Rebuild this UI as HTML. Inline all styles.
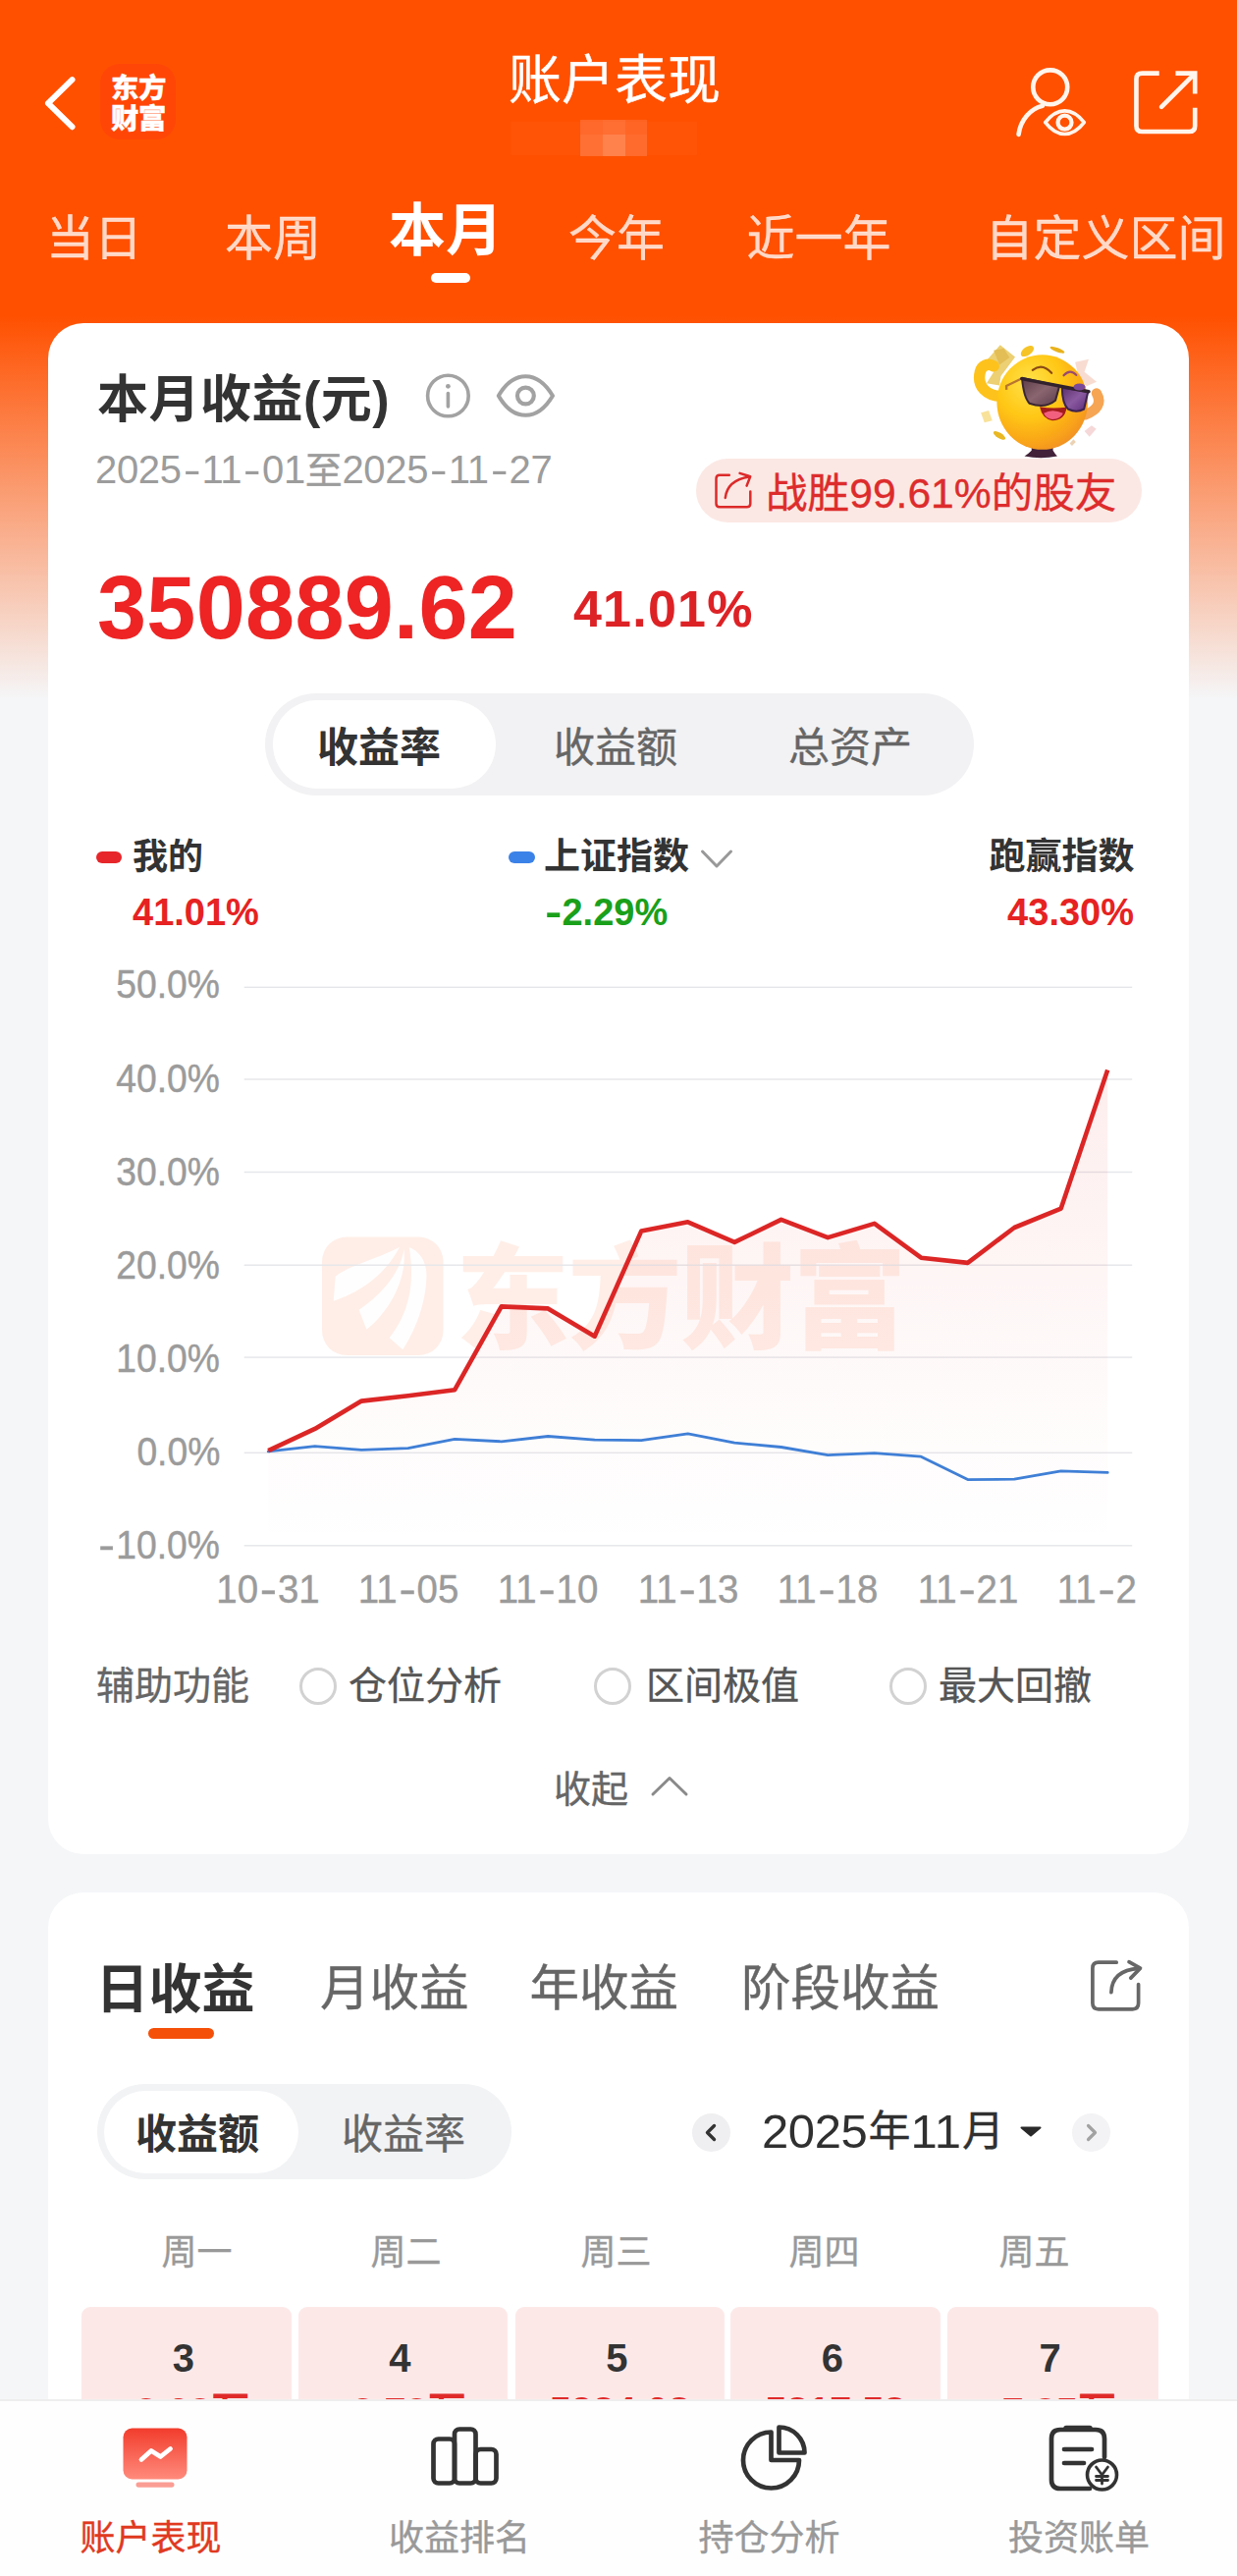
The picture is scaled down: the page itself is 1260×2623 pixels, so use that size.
<!DOCTYPE html>
<html lang="zh-CN">
<head>
<meta charset="utf-8">
<title>账户表现</title>
<style>
*{box-sizing:border-box;margin:0;padding:0}
html,body{width:1260px;height:2623px;overflow:hidden;background:#f5f6f8}
body{position:relative;font-family:"Liberation Sans","Noto Sans CJK SC",sans-serif;color:#333}
.a{position:absolute;white-space:nowrap;line-height:1}
.cj{font-family:"Liberation Sans","Noto Sans CJK SC",sans-serif;-webkit-text-stroke-width:.35px}
.a.cj{margin-top:.0895em}
.cj.b,.b .cj,.cell .cj{-webkit-text-stroke-width:0}
.b{font-weight:700}
.m{font-weight:500}
#bg{left:0;top:0;width:1260px;height:720px;background:linear-gradient(#ff5000 0,#ff5000 322px,#f5f6f8 712px)}
.card{background:#fff;border-radius:36px}
.tab{color:rgba(255,255,255,.78);font-size:49px;transform:translateX(-50%);top:215px;-webkit-text-stroke:.3px rgba(255,255,255,.78)}
.gl{height:2px;left:249px;width:904px;background:#ececee}
.yl{font-size:40.5px;color:#9b9b9b;right:1036px;transform:translateY(-50%) scaleX(.92);transform-origin:100% 50%;-webkit-text-stroke-width:.45px}
.xl{font-size:40px;color:#9b9b9b;-webkit-text-stroke-width:.4px;transform:translateX(-50%) scaleX(.96)}
.hy{display:inline-block;width:.52em;text-align:center;transform:scaleX(1.35)}
.red{color:#e62222}
.grn{color:#1aa01a}
.g6{color:#666}
.g9{color:#999}
.radio{width:38px;height:38px;border:3.4px solid #d2d2d2;border-radius:50%;top:1697.500px;margin-left:-1px}
.cell{top:2348.500px;width:214.500px;height:200px;background:#fde8e8;border-radius:9px}
.cell b{position:absolute;left:-6px;right:0;top:32.500px;text-align:center;font-size:40px;line-height:1;color:#333}
.cell i{position:absolute;left:13px;right:0;top:87.500px;text-align:center;font-size:39.500px;line-height:1;color:#e02a2a;font-style:normal;font-weight:700}
.wk{font-size:36px;color:#999;top:2273px;transform:translateX(-50%)}
.nl{font-size:36px;color:#999;top:2563.500px;transform:translateX(-50%)}
</style>
</head>
<body>
<div id="bg" class="a"></div>

<!-- ===== header ===== -->
<div id="hdr">
<svg class="a" style="left:40px;top:72px" width="44" height="66" viewBox="0 0 44 66"><path d="M33.500 9.200 L9 33.200 L33.500 57.200" fill="none" stroke="#fff" stroke-width="6" stroke-linecap="round" stroke-linejoin="round"/></svg>
<div class="a" id="logo" style="left:101.800px;top:65.200px;width:77.500px;height:76.800px;border-radius:20px;background:#ff4607"></div>
<div class="a cj" style="left:113px;top:72px;font-size:28.400px;color:#fff;font-weight:900;line-height:31.800px;letter-spacing:-.4px">东方<br>财富</div>
<div class="a cj" id="title" style="left:626px;top:50px;font-size:54px;color:#fff;transform:translateX(-50%)">账户表现</div>
<div class="a" style="left:591px;top:122px;width:68px;height:37px;opacity:.9">
<div class="a" style="left:0;top:0;width:23px;height:15px;background:#ff6a2c"></div><div class="a" style="left:23px;top:0;width:23px;height:15px;background:#ff7034"></div><div class="a" style="left:46px;top:0;width:22px;height:15px;background:#ff6525"></div>
<div class="a" style="left:0;top:15px;width:23px;height:22px;background:#ff7236"></div><div class="a" style="left:23px;top:15px;width:23px;height:22px;background:#ff8652"></div><div class="a" style="left:46px;top:15px;width:22px;height:22px;background:#ff6c2e"></div>
</div>
<div class="a" style="left:520px;top:124px;width:190px;height:34px;background:rgba(255,255,255,.02)"></div>
</div>

<svg class="a" id="hi" style="left:1010px;top:50px" width="240" height="110" viewBox="0 0 1237 567"><g fill="none" stroke="#fff5ec" stroke-width="24" stroke-linecap="round" stroke-linejoin="round">
<circle cx="308" cy="200" r="90"/>
<path d="M142 448C152 372 205 312 268 298"/>
<path d="M282 385C318 338 350 324 384 324C418 324 450 338 486 385C450 432 418 446 384 446C350 446 318 432 282 385Z" stroke-width="19" fill="#ff5000"/>
<circle cx="384" cy="385" r="36" stroke-width="22"/>
<path d="M880 127H790Q760 127 760 157V403Q760 433 790 433H1038Q1068 433 1068 403V308" stroke-linecap="butt"/>
<path d="M892 303L1062 133"/>
<path d="M966 127H1068V234" stroke-linejoin="miter" stroke-linecap="butt"/>
</g></svg>

<!-- ===== tabs ===== -->
<div id="tabs">
<div class="a tab cj" style="left:96px">当日</div>
<div class="a tab cj" style="left:278px">本周</div>
<div class="a cj b" style="left:454px;top:201px;font-size:58px;color:#fff;transform:translateX(-50%)">本月</div>
<div class="a tab cj" style="left:628px">今年</div>
<div class="a tab cj" style="left:834px">近一年</div>
<div class="a tab cj" style="left:1126px">自定义区间</div>
<div class="a" style="left:439px;top:278px;width:40px;height:10px;border-radius:5px;background:#fff"></div>
</div>

<!-- ===== card 1 ===== -->
<div class="a card" id="card1" style="left:49px;top:328.500px;width:1161.500px;height:1559.500px"></div>


<div id="c1top">
<div class="a cj b" id="t1" style="left:99px;top:376px;font-size:52px;color:#333;letter-spacing:.5px">本月收益(元)</div>
<svg class="a" style="left:432px;top:378px" width="50" height="50" viewBox="0 0 50 50"><circle cx="24.400" cy="25" r="20.800" fill="none" stroke="#a2a2a2" stroke-width="3.600"/><circle cx="24.400" cy="15.300" r="2.400" fill="#a2a2a2"/><path d="M24.400 22.500V36" stroke="#a2a2a2" stroke-width="3.600" stroke-linecap="round"/></svg>
<svg class="a" style="left:503px;top:380px" width="66" height="48" viewBox="0 0 66 48"><path d="M4.800 23C14 7 24 3.200 32.400 3.200C40.800 3.200 50.500 7 60 23C50.500 39 40.800 42.800 32.400 42.800C24 42.800 14 39 4.800 23Z" fill="none" stroke="#a2a2a2" stroke-width="4" stroke-linejoin="round"/><circle cx="32.400" cy="23" r="8.400" fill="none" stroke="#a2a2a2" stroke-width="4.200"/></svg>
<div class="a" id="dt" style="left:97px;top:458px;font-size:40px;color:#9c9c9c;letter-spacing:-.35px">2025<span class="hy">-</span>11<span class="hy">-</span>01<span class="cj" style="font-size:38px">至</span>2025<span class="hy">-</span>11<span class="hy">-</span>27</div>
<svg class="a" id="emoji" style="left:970px;top:335px" width="180" height="132" viewBox="0 0 1237 907">
<defs>
<radialGradient id="eg" cx="0.36" cy="0.3" r="0.8"><stop offset="0" stop-color="#ffe24a"/><stop offset=".45" stop-color="#ffc715"/><stop offset=".8" stop-color="#f9a21a"/><stop offset="1" stop-color="#ee8a28"/></radialGradient>
<linearGradient id="l1" x1="0" y1="0" x2="1" y2="1"><stop offset="0" stop-color="#5b3b46"/><stop offset=".5" stop-color="#8a6670"/><stop offset="1" stop-color="#5a3a4a"/></linearGradient>
<linearGradient id="l2" x1="0" y1="0" x2="1" y2="1"><stop offset="0" stop-color="#5a2f6a"/><stop offset=".5" stop-color="#8a5aa0"/><stop offset="1" stop-color="#5a2a78"/></linearGradient>
<filter id="ebl" x="-5%" y="-5%" width="110%" height="110%"><feGaussianBlur stdDeviation="2.5"/></filter>
</defs>
<g filter="url(#ebl)">
<path d="M245 215 L335 112 L440 195 L340 330 L330 395 L240 380 L290 300Z" fill="#ecd073"/>
<path d="M290 150 L360 135 L400 200 L330 250Z" fill="#e3bd55"/>
<path d="M345 470 C240 470 170 400 195 300 C205 255 250 235 290 260" fill="none" stroke="#fdc21c" stroke-width="78" stroke-linecap="round"/>
<path d="M860 232 L955 212 L925 300 L1010 370 L940 400 L880 320Z" fill="#f8dcd2"/>
<path d="M930 600 C1010 570 1050 520 1010 450" fill="none" stroke="#f6a552" stroke-width="72" stroke-linecap="round"/>
<path d="M555 820 H705 V850 Q720 875 735 890 Q620 915 505 890 Q530 875 555 850Z" fill="#43243a"/>
<ellipse cx="630" cy="512" rx="318" ry="332" fill="url(#eg)"/>
<ellipse cx="525" cy="155" rx="52" ry="29" transform="rotate(-35 525 155)" fill="#f6c426"/>
<ellipse cx="735" cy="146" rx="54" ry="15" transform="rotate(20 735 146)" fill="#e9b21e"/>
<ellipse cx="330" cy="745" rx="48" ry="19" transform="rotate(32 330 745)" fill="#e9b820"/>
<path d="M200 585 L255 570 L280 640 L225 655Z" fill="#f8e29a"/>
<path d="M925 715 L975 675 L1008 700 L960 755Z" fill="#f6d8d8"/>
<path d="M822 800 L848 772 L865 790 L838 818Z" fill="#ecd2b4"/>
<path d="M562 288 Q630 235 695 308" fill="none" stroke="#8a4a12" stroke-width="15" stroke-linecap="round"/>
<path d="M780 325 Q825 275 868 322" fill="none" stroke="#9a4a70" stroke-width="15" stroke-linecap="round"/>
<path d="M612 545 Q700 560 800 548 Q790 640 700 640 Q630 630 612 545Z" fill="#a41a1a"/>
<path d="M640 590 Q700 555 775 590 Q760 632 700 632 Q655 628 640 590Z" fill="#f2607f"/>
<path d="M380 425 L378 398 L488 345" fill="none" stroke="#b8742e" stroke-width="16" stroke-linejoin="round"/>
<path d="M488 342 L750 398 L722 500 Q650 560 540 520 Q500 480 488 342Z" fill="url(#l1)" stroke="#3a2832" stroke-width="14" stroke-linejoin="round"/>
<path d="M768 410 L950 440 L922 560 Q870 590 810 560 Q770 520 768 410Z" fill="url(#l2)" stroke="#3d2450" stroke-width="14" stroke-linejoin="round"/>
<path d="M486 348 L955 438" stroke="#33222e" stroke-width="24" stroke-linecap="round"/>
<ellipse cx="890" cy="405" rx="42" ry="24" fill="#7a4a9a"/>
</g>
</svg>
<div class="a" id="badge" style="left:709px;top:467px;width:454px;height:65px;border-radius:33px;background:#fbe8e4"></div>
<svg class="a" style="left:726px;top:480px" width="42" height="40" viewBox="0 0 42 40"><g fill="none" stroke="#dc2a2a" stroke-width="2.500" stroke-linecap="round" stroke-linejoin="round"><path d="M16.800 3.800H7Q3.500 3.800 3.500 7.300V32.700Q3.500 36.200 7 36.200H34.800Q38.300 36.200 38.300 32.700V20.400"/><path d="M12.800 26.900C14 16 22 8 37 5.600"/><path d="M27.600 1.900L38.200 5.200L34.600 14.600"/></g></svg>
<div class="a cj" id="bt" style="left:780px;top:477px;font-size:42.6px;color:#dd2c2c">战胜99.61%的股友</div>
<div class="a b" id="big" style="left:99px;top:574px;font-size:90px;color:#ee2424;letter-spacing:.3px">350889.62</div>
<div class="a b" id="pct" style="left:584px;top:594px;font-size:52px;color:#dd2226;letter-spacing:1.2px">41.01%</div>
</div>

<div id="seg1">
<div class="a" style="left:270px;top:706px;width:722px;height:104px;border-radius:52px;background:#f2f2f4"></div>
<div class="a" style="left:278px;top:713px;width:227px;height:90px;border-radius:45px;background:#fff"></div>
<div class="a cj b" style="left:386px;top:737px;font-size:42px;color:#333;transform:translateX(-50%)">收益率</div>
<div class="a cj g6" style="left:627px;top:737px;font-size:42px;transform:translateX(-50%)">收益额</div>
<div class="a cj g6" style="left:866px;top:737px;font-size:42px;transform:translateX(-50%)">总资产</div>
</div>

<div id="legend">
<div class="a" style="left:98px;top:867px;width:26px;height:12px;border-radius:6px;background:#e6262a"></div>
<div class="a cj b" style="left:135px;top:852px;font-size:36px;color:#333">我的</div>
<div class="a b red" style="left:135px;top:910px;font-size:38px">41.01%</div>
<div class="a" style="left:518px;top:867px;width:27px;height:12px;border-radius:6px;background:#3b82e8"></div>
<div class="a cj b" style="left:554px;top:850.500px;font-size:37px;color:#333">上证指数</div>
<svg class="a" style="left:712px;top:863px" width="36" height="24" viewBox="0 0 36 24"><path d="M3.500 4L18 19L32.500 4" fill="none" stroke="#999" stroke-width="3" stroke-linecap="round" stroke-linejoin="round"/></svg>
<div class="a b grn" style="left:555px;top:910px;font-size:38px"><span class="hy" style="width:.46em">-</span>2.29%</div>
<div class="a cj b" style="right:104.500px;top:850.500px;font-size:37px;color:#333">跑赢指数</div>
<div class="a b red" style="right:105px;top:910px;font-size:38px">43.30%</div>
</div>

<div id="chartwrap">
<svg class="a" id="chart" style="left:0;top:960px" width="1260" height="640" viewBox="0 0 1260 640">
<defs><linearGradient id="ar" x1="0" y1="45" x2="0" y2="614" gradientUnits="userSpaceOnUse"><stop offset="0" stop-color="#e8302a" stop-opacity=".1"/><stop offset=".75" stop-color="#e8302a" stop-opacity=".02"/><stop offset="1" stop-color="#e8302a" stop-opacity="0"/></linearGradient></defs>
<g id="wm">
<rect x="328" y="299.500" width="123.500" height="120.500" rx="25" fill="#ff5a1e" fill-opacity=".105"/>
<g transform="translate(310 280) scale(.32336)" fill="#fff" fill-opacity=".93"><path d="M300 92C230 130 140 150 98 185L92 262C160 240 250 190 300 92Z"/><path d="M314 98C302 180 232 250 172 290L196 352C262 300 324 200 314 98Z"/><path d="M330 93C370 108 390 150 384 200C378 290 340 370 310 415L268 378C322 310 352 220 330 93Z"/></g>
<text x="464" y="404" font-family="'Liberation Sans','Noto Sans CJK SC',sans-serif" font-weight="900" font-size="116" fill="#ff5a1e" fill-opacity=".105" letter-spacing="-1.500">东方财富</text>
</g>
<rect x="248.700" y="44.6" width="904.500" height="1.400" fill="#e5e6ea"/><rect x="248.700" y="138.3" width="904.500" height="1.400" fill="#e5e6ea"/><rect x="248.700" y="232.8" width="904.500" height="1.400" fill="#e5e6ea"/><rect x="248.700" y="327.5" width="904.500" height="1.400" fill="#e5e6ea"/><rect x="248.700" y="421.4" width="904.500" height="1.400" fill="#e5e6ea"/><rect x="248.700" y="518.6" width="904.500" height="1.400" fill="#e5e6ea"/><rect x="248.700" y="613.1" width="904.500" height="1.400" fill="#e5e6ea"/>

<path d="M273.2,517.1 L320.7,494.9 L368.2,466.6 L415.7,461.3 L463.2,455.2 L510.7,370.4 L558.2,372.4 L605.7,400.7 L653.2,293.6 L700.7,284.3 L748.2,304.9 L795.7,281.9 L843.2,300.1 L890.7,285.9 L938.2,320.7 L985.7,325.9 L1033.2,290.0 L1080.7,270.6 L1128.2,129.5 L1128.2,602.0 L273.2,602.0 Z" fill="url(#ar)"/>
<polyline points="273.2,517.9 320.7,512.6 368.2,516.3 415.7,514.7 463.2,505.4 510.7,507.8 558.2,502.5 605.7,506.2 653.2,506.6 700.7,499.8 748.2,509.1 795.7,513.5 843.2,521.6 890.7,519.6 938.2,523.2 985.7,546.6 1033.2,546.2 1080.7,537.8 1128.2,539.4" fill="none" stroke="#3f7fd6" stroke-width="2.800" stroke-linejoin="round" stroke-linecap="round"/>
<polyline points="273.2,517.1 320.7,494.9 368.2,466.6 415.7,461.3 463.2,455.2 510.7,370.4 558.2,372.4 605.7,400.7 653.2,293.6 700.7,284.3 748.2,304.9 795.7,281.9 843.2,300.1 890.7,285.9 938.2,320.7 985.7,325.9 1033.2,290.0 1080.7,270.6 1128.2,129.5" fill="none" stroke="#dc2626" stroke-width="4.600" stroke-linejoin="round" stroke-linecap="butt"/>
</svg>
<div class="a yl" style="top:1002.4px">50.0%</div><div class="a yl" style="top:1097.6px">40.0%</div><div class="a yl" style="top:1192.7px">30.0%</div><div class="a yl" style="top:1287.9px">20.0%</div><div class="a yl" style="top:1383.0px">10.0%</div><div class="a yl" style="top:1478.0px">0.0%</div><div class="a yl" style="top:1573.3px"><span class="hy">-</span>10.0%</div>
<div class="a" style="left:0;top:1590px;width:1160.500px;height:60px;overflow:hidden"><div class="a xl" style="left:273.2px;top:8px">10<span class="hy">-</span>31</div><div class="a xl" style="left:415.7px;top:8px">11<span class="hy">-</span>05</div><div class="a xl" style="left:558.2px;top:8px">11<span class="hy">-</span>10</div><div class="a xl" style="left:700.7px;top:8px">11<span class="hy">-</span>13</div><div class="a xl" style="left:843.2px;top:8px">11<span class="hy">-</span>18</div><div class="a xl" style="left:985.7px;top:8px">11<span class="hy">-</span>21</div><div class="a xl" style="left:1128.2px;top:8px">11<span class="hy">-</span>2<span style="opacity:0">6</span></div></div>
</div>

<div id="aux">
<div class="a cj" style="left:98px;top:1694px;font-size:39px;color:#666">辅助功能</div>
<div class="a radio" style="left:305.500px"></div>
<div class="a cj" style="left:355px;top:1694px;font-size:39px;color:#555">仓位分析</div>
<div class="a radio" style="left:606px"></div>
<div class="a cj" style="left:658px;top:1694px;font-size:39px;color:#555">区间极值</div>
<div class="a radio" style="left:906.500px"></div>
<div class="a cj" style="left:956px;top:1694px;font-size:39px;color:#555">最大回撤</div>
<div class="a cj" style="left:564px;top:1800px;font-size:38px;color:#666">收起</div>
<svg class="a" style="left:660px;top:1804px" width="44" height="28" viewBox="0 0 44 28"><path d="M5 23L22 6.500L39 23" fill="none" stroke="#8a8a8a" stroke-width="3" stroke-linecap="round" stroke-linejoin="round"/></svg>
</div>

<!-- ===== card 2 ===== -->
<div class="a card" id="card2" style="left:49px;top:1927px;width:1162px;height:760px"></div>

<div id="c2">
<div class="a cj b" style="left:97.500px;top:1994px;font-size:54px;color:#333">日收益</div>
<div class="a" style="left:151px;top:2065px;width:67px;height:11px;border-radius:6px;background:#f5500a"></div>
<div class="a cj" style="left:326px;top:1995px;font-size:50.500px;color:#666">月收益</div>
<div class="a cj" style="left:539.500px;top:1995px;font-size:50.500px;color:#666">年收益</div>
<div class="a cj" style="left:755px;top:1995px;font-size:50.500px;color:#666">阶段收益</div>
<svg class="a" style="left:1106px;top:1992px" width="62" height="62" viewBox="0 0 62 62"><g fill="none" stroke="#676767" stroke-width="3.700" stroke-linecap="round" stroke-linejoin="round"><path d="M31.200 6.200H12.900Q6.900 6.200 6.900 12.200V47.800Q6.900 53.800 12.900 53.800H47.600Q53.600 53.800 53.600 47.800V28.600"/><path d="M25.900 36.700C26.500 21 36 13.500 54 12.400"/><path d="M44 5.600L55.500 12.100L45.800 22.100"/></g></svg>

<div class="a" style="left:99px;top:2122px;width:422px;height:97px;border-radius:49px;background:#f2f3f5"></div>
<div class="a" style="left:105.500px;top:2128.500px;width:198px;height:84.500px;border-radius:43px;background:#fff"></div>
<div class="a cj b" style="left:201px;top:2149px;font-size:42px;color:#333;transform:translateX(-50%)">收益额</div>
<div class="a cj g6" style="left:411px;top:2149px;font-size:42px;transform:translateX(-50%)">收益率</div>

<div class="a" style="left:705px;top:2152px;width:39px;height:39px;border-radius:50%;background:#efeff1"></div>
<svg class="a" style="left:705px;top:2152px" width="39" height="39" viewBox="0 0 39 39"><path d="M22.500 12.500L15.500 19.500L22.500 26.500" fill="none" stroke="#333" stroke-width="3.400" stroke-linecap="round" stroke-linejoin="round"/></svg>
<div class="a" style="left:776px;top:2146px;font-size:49px;color:#303030"><span style="letter-spacing:-.4px">2025</span><span class="cj" style="font-size:43px;position:relative;top:-2px;margin-left:1px">年</span><span style="letter-spacing:.8px">11</span><span class="cj" style="font-size:43px;position:relative;top:-2px">月</span></div>
<svg class="a" style="left:1038px;top:2164px" width="24" height="12" viewBox="0 0 24 12"><path d="M2.500 2.500H21.500L12 10.500Z" fill="#2a2a2a" stroke="#2a2a2a" stroke-width="2" stroke-linejoin="round"/></svg>
<div class="a" style="left:1092px;top:2152px;width:39px;height:39px;border-radius:50%;background:#f3f3f5"></div>
<svg class="a" style="left:1092px;top:2152px" width="39" height="39" viewBox="0 0 39 39"><path d="M16.500 12.500L23.500 19.500L16.500 26.500" fill="none" stroke="#a2a2a2" stroke-width="3.200" stroke-linecap="round" stroke-linejoin="round"/></svg>

<div class="a wk cj" style="left:200.500px">周一</div>
<div class="a wk cj" style="left:413.500px">周二</div>
<div class="a wk cj" style="left:627.500px">周三</div>
<div class="a wk cj" style="left:839.500px">周四</div>
<div class="a wk cj" style="left:1053.500px">周五</div>

<div class="a cell" style="left:82.500px"><b>3</b><i>3.03<span class="cj">万</span></i></div>
<div class="a cell" style="left:303.500px;width:213.500px"><b>4</b><i>2.73<span class="cj">万</span></i></div>
<div class="a cell" style="left:524.500px;width:213.500px"><b>5</b><i style="top:86px;left:0">5934.08</i></div>
<div class="a cell" style="left:744px;width:213.500px"><b>6</b><i style="top:86px;left:0">5317.58</i></div>
<div class="a cell" style="left:965px;width:215px"><b>7</b><i>7.85<span class="cj">万</span></i></div>
</div>

<!-- ===== bottom nav ===== -->
<div class="a" id="nav" style="left:0;top:2443px;width:1260px;height:180px;background:#fefefe;border-top:2px solid #eeeeee"></div>

<div id="navitems">
<svg class="a" style="left:120px;top:2466px" width="76" height="72" viewBox="0 0 76 72"><defs><linearGradient id="ng" x1="0" y1="0" x2="0" y2="1"><stop offset="0" stop-color="#f23c2c"/><stop offset="1" stop-color="#ff8b7c"/></linearGradient></defs><rect x="5.500" y="6.500" width="65" height="52" rx="9" fill="url(#ng)"/><rect x="18.500" y="61.500" width="39" height="5.200" rx="2.600" fill="#fb9d94"/><path d="M24 38.500L34 29.500L43.500 35.500L53.500 27.500" fill="none" stroke="#fff" stroke-width="4.800" stroke-linecap="round" stroke-linejoin="round"/></svg>
<div class="a nl cj" style="left:153.500px;color:#e0391f">账户表现</div>
<svg class="a" style="left:432.500px;top:2465px" width="80" height="72" viewBox="0 0 80 72"><g fill="none" stroke="#333" stroke-width="4.700" stroke-linejoin="round"><rect x="8.500" y="18.500" width="21.500" height="45" rx="5"/><rect x="30" y="8.500" width="21.500" height="55" rx="5"/><rect x="51.500" y="29" width="21" height="34.500" rx="5"/></g></svg>
<div class="a nl cj" style="left:468px">收益排名</div>
<svg class="a" style="left:750px;top:2464px" width="78" height="74" viewBox="0 0 78 74"><g fill="none" stroke="#333" stroke-width="4.700" stroke-linejoin="round" stroke-linecap="round"><path d="M35.500 12.500A28.500 28.500 0 1 0 64 41H35.500Z"/><path d="M43.500 7.500A26 26 0 0 1 69.500 33.500H43.500Z"/></g></svg>
<div class="a nl cj" style="left:783.500px">持仓分析</div>
<svg class="a" style="left:1062px;top:2462px" width="84" height="80" viewBox="0 0 84 80"><g fill="none" stroke="#333" stroke-width="4.700" stroke-linecap="round" stroke-linejoin="round"><path d="M48 72H18Q9 72 9 63V21Q9 12 18 12H54Q63 12 63 21V40"/><path d="M24 10.500H48" stroke-width="5.500"/><path d="M22 32H50M22 46H42"/></g><circle cx="60.500" cy="58" r="15" fill="#fff" stroke="#333" stroke-width="3.600"/><path d="M54.500 50L60.500 58L66.500 50M60.500 58V67M54.500 59.500H66.500M54.500 63.500H66.500" fill="none" stroke="#333" stroke-width="2.800" stroke-linecap="round" stroke-linejoin="round"/></svg>
<div class="a nl cj" style="left:1099px">投资账单</div>
</div>
</body>
</html>
